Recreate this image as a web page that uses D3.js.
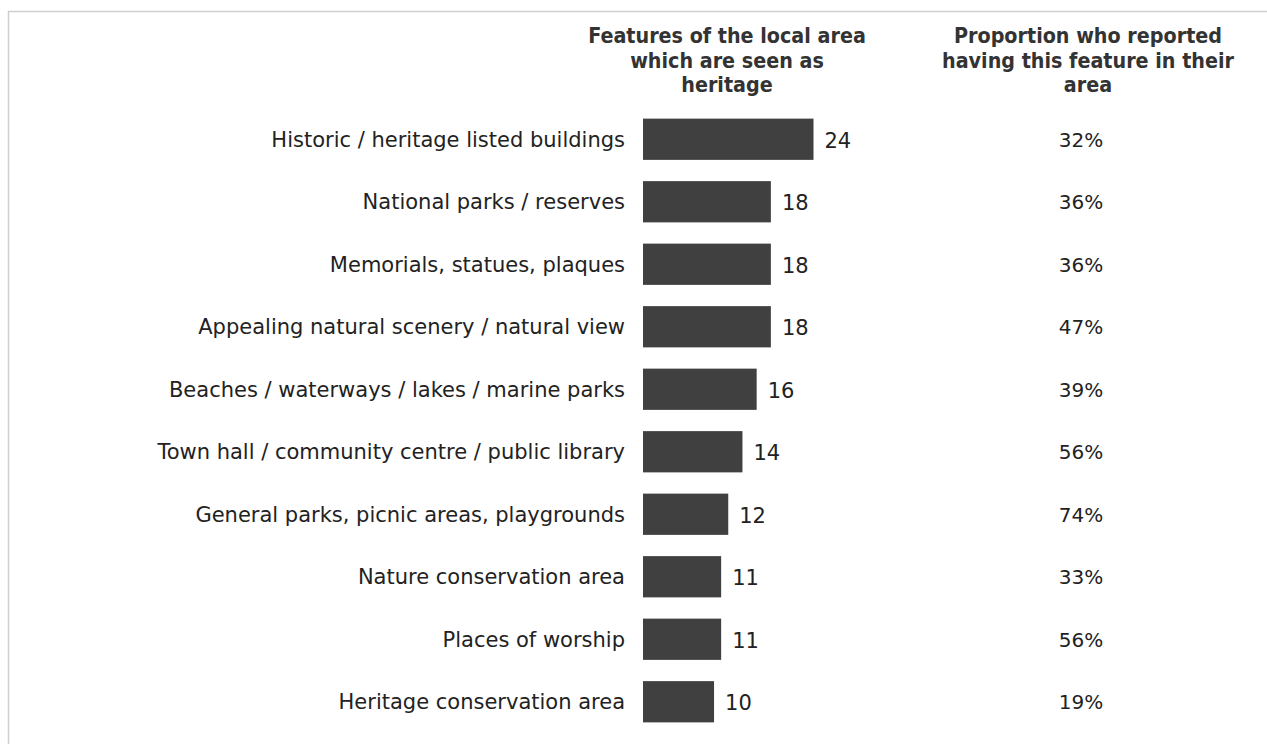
<!DOCTYPE html>
<html>
<head>
<meta charset="utf-8">
<script src="https://cdn.jsdelivr.net/npm/d3@7"></script>
<style>
  html, body { margin: 0; padding: 0; background: #fff; }
  svg { display: block; }
</style>
</head>
<body>
<svg id="chart" width="1267" height="744"></svg>
<script>
// Heritage features of the local area
const features = [
  "Historic / heritage listed buildings",
  "National parks / reserves",
  "Memorials, statues, plaques",
  "Appealing natural scenery / natural view",
  "Beaches / waterways / lakes / marine parks",
  "Town hall / community centre / public library",
  "General parks, picnic areas, playgrounds",
  "Nature conservation area",
  "Places of worship",
  "Heritage conservation area"
];
const seenAsHeritage = [24, 18, 18, 18, 16, 14, 12, 11, 11, 10];
const haveInArea = [32, 36, 36, 47, 39, 56, 74, 33, 56, 19];
const headerLeft = ["Features of the local area", "which are seen as", "heritage"];
const headerRight = ["Proportion who reported", "having this feature in their", "area"];

const svg = d3.select("#chart");
const W = 1267, H = 744;

// frame
svg.append("path")
  .attr("d", `M8.5,${H} V11.5 H${W}`)
  .attr("fill", "none")
  .attr("stroke", "#cfcfcf")
  .attr("stroke-width", 1.5);

const barX0 = 643;
const x = d3.scaleLinear().domain([0, 24]).range([barX0, 813.5]);
const y = d3.scaleBand().domain(features).range([108, 733]).paddingInner(0.34).paddingOuter(0.17);

const font = "'DejaVu Sans', Verdana, sans-serif";
const ink = "#222";

// column headers
[[headerLeft, 727], [headerRight, 1088]].forEach(([lines, cx]) => {
  const t = svg.append("text")
    .attr("text-anchor", "middle")
    .attr("font-family", "'DejaVu Sans Condensed', 'DejaVu Sans', sans-serif")
    .attr("font-stretch", "condensed")
    .attr("font-weight", "bold")
    .attr("font-size", 21.3)
    .attr("fill", "#333");
  lines.forEach((s, i) => {
    t.append("tspan").attr("x", cx).attr("y", 43 + i * 24.5).text(s);
  });
});

const rows = svg.append("g").selectAll("g")
  .data(features.map((f, i) => ({ f, v: seenAsHeritage[i], p: haveInArea[i] })))
  .join("g");

const mid = d => y(d.f) + y.bandwidth() / 2;

rows.append("rect")
  .attr("x", barX0)
  .attr("y", d => y(d.f))
  .attr("width", d => x(d.v) - barX0)
  .attr("height", y.bandwidth())
  .attr("fill", "#404040");

rows.append("text")
  .attr("x", barX0 - 18)
  .attr("y", d => mid(d) + 7.5)
  .attr("text-anchor", "end")
  .attr("font-family", font)
  .attr("font-size", 21)
  .attr("fill", ink)
  .text(d => d.f);

rows.append("text")
  .attr("x", d => x(d.v) + 11)
  .attr("y", d => mid(d) + 8.5)
  .attr("font-family", font)
  .attr("font-size", 21)
  .attr("fill", ink)
  .text(d => d.v);

rows.append("text")
  .attr("x", 1081)
  .attr("y", d => mid(d) + 7.5)
  .attr("text-anchor", "middle")
  .attr("font-family", font)
  .attr("font-size", 20)
  .attr("fill", ink)
  .text(d => d.p + "%");
</script>
</body>
</html>
